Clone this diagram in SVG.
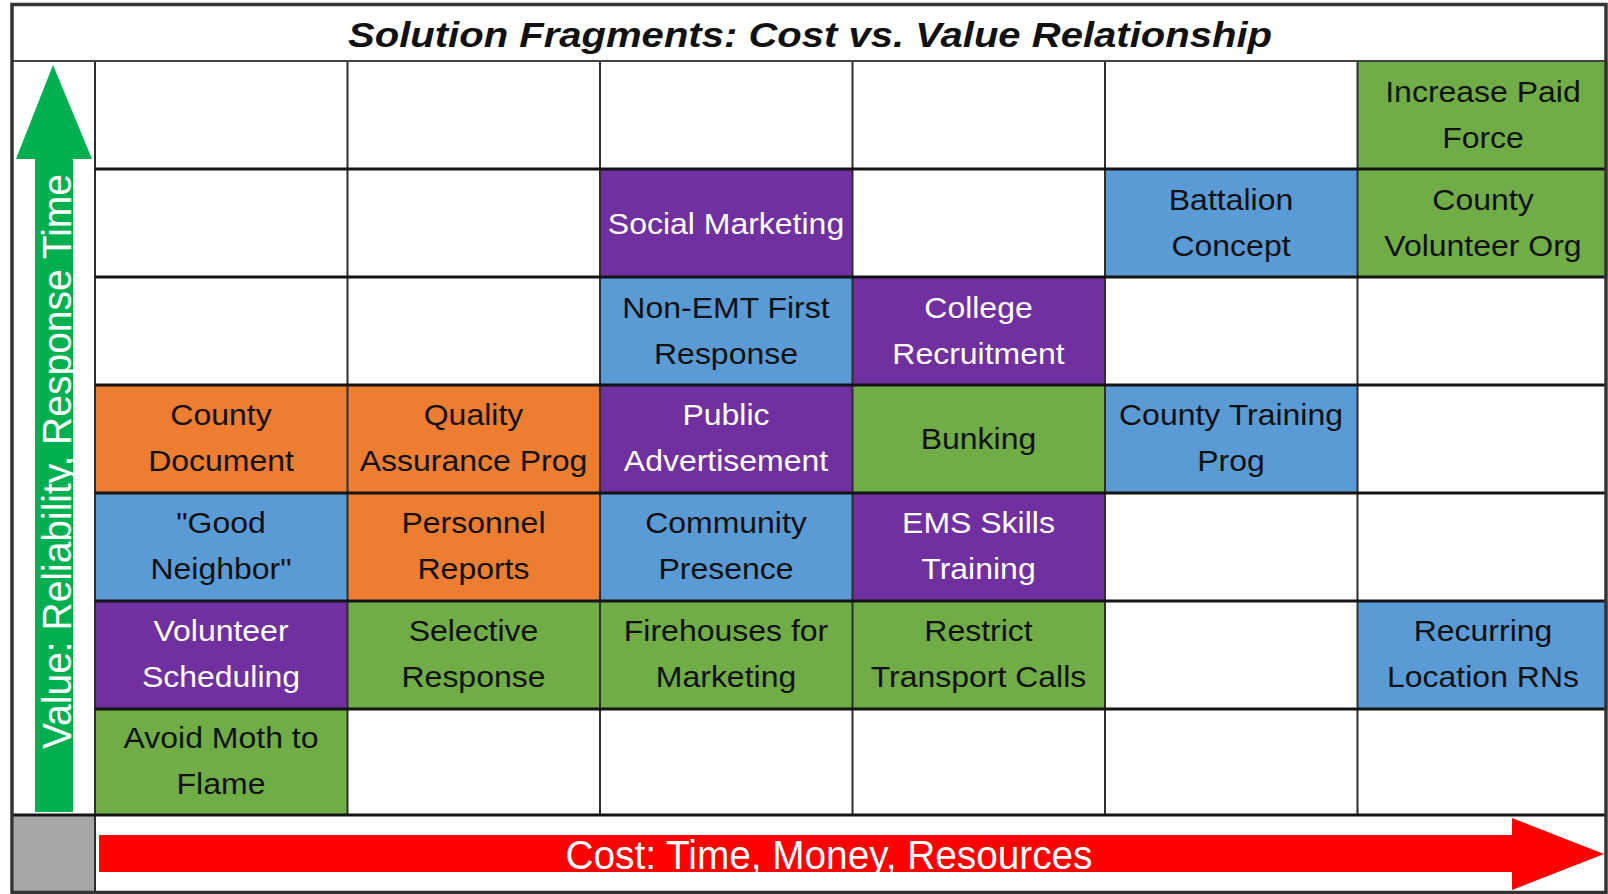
<svg xmlns="http://www.w3.org/2000/svg" width="1608" height="894" viewBox="0 0 1608 894">
  <style>
    .cell { stroke: none; }
    .orange { fill: #ED7D31; }
    .blue { fill: #5B9BD5; }
    .green { fill: #70AD47; }
    .purple { fill: #7030A0; }
    .lbl { font-family: "Liberation Sans", Arial, sans-serif; font-size: 30px; text-anchor: middle; fill: #111; }
    .lbl.light { fill: #ffffff; }
    .hline { stroke: #141414; stroke-width: 3; }
    .vline { stroke: #2e2e2e; stroke-width: 2; }
  </style>
  <defs>
    <clipPath id="barClip">
      <rect x="99" y="835" width="1413" height="37"/>
    </clipPath>
  </defs>

  <!-- background -->
  <rect x="0" y="0" width="1608" height="894" fill="#ffffff"/>

  <!-- title -->
  <g id="title">
    <text x="810" y="47" font-family="'Liberation Sans', Arial, sans-serif" font-size="35" font-weight="bold" font-style="italic" text-anchor="middle" fill="#111" textLength="924" lengthAdjust="spacingAndGlyphs">Solution Fragments: Cost vs. Value Relationship</text>
  </g>

  <!-- value axis: green arrow -->
  <g id="value-axis">
    <polygon points="53,65 92,159 73,159 73,812 35,812 35,159 16,159" fill="#00B050"/>
    <text transform="translate(71 461.5) rotate(-90)" font-family="'Liberation Sans', Arial, sans-serif" font-size="40" text-anchor="middle" fill="#ffffff" textLength="575" lengthAdjust="spacingAndGlyphs">Value: Reliability, Response Time</text>
  </g>

  <!-- corner block -->
  <g id="corner">
    <rect x="14" y="815" width="81" height="78" fill="#A6A6A6"/>
  </g>

  <!-- cost axis: red arrow -->
  <g id="cost-axis">
    <polygon points="99,835 1512,835 1512,818 1604,854 1512,890 1512,872 99,872" fill="#FF0000"/>
    <text x="829" y="869" clip-path="url(#barClip)" font-family="'Liberation Sans', Arial, sans-serif" font-size="40" text-anchor="middle" fill="#ffffff" textLength="527" lengthAdjust="spacingAndGlyphs">Cost: Time, Money, Resources</text>
  </g>

  <!-- fragment cells: columns start at 95 + 252.5*i, rows at 61 + 108*j -->
  <g id="increase-paid-force">
    <rect class="cell green" x="1357.5" y="61" width="250" height="108"/>
    <text class="lbl" transform="translate(1483 0) scale(1.066 1)"><tspan x="0" y="102.5">Increase Paid</tspan><tspan x="0" y="148.5">Force</tspan></text>
  </g>

  <g id="social-marketing">
    <rect class="cell purple" x="600" y="169" width="252.5" height="108"/>
    <text class="lbl light" transform="translate(726 0) scale(1.066 1)" x="0" y="234">Social Marketing</text>
  </g>
  <g id="battalion-concept">
    <rect class="cell blue" x="1105" y="169" width="252.5" height="108"/>
    <text class="lbl" transform="translate(1231 0) scale(1.066 1)"><tspan x="0" y="210.5">Battalion</tspan><tspan x="0" y="256.5">Concept</tspan></text>
  </g>
  <g id="county-volunteer-org">
    <rect class="cell green" x="1357.5" y="169" width="250" height="108"/>
    <text class="lbl" transform="translate(1483 0) scale(1.066 1)"><tspan x="0" y="210.5">County</tspan><tspan x="0" y="256.5">Volunteer Org</tspan></text>
  </g>

  <g id="non-emt-first-response">
    <rect class="cell blue" x="600" y="277" width="252.5" height="108"/>
    <text class="lbl" transform="translate(726 0) scale(1.066 1)"><tspan x="0" y="318">Non-EMT First</tspan><tspan x="0" y="364">Response</tspan></text>
  </g>
  <g id="college-recruitment">
    <rect class="cell purple" x="852.5" y="277" width="252.5" height="108"/>
    <text class="lbl light" transform="translate(978.5 0) scale(1.066 1)"><tspan x="0" y="318">College</tspan><tspan x="0" y="364">Recruitment</tspan></text>
  </g>

  <g id="county-document">
    <rect class="cell orange" x="95" y="385" width="252.5" height="108"/>
    <text class="lbl" transform="translate(221 0) scale(1.066 1)"><tspan x="0" y="425.5">County</tspan><tspan x="0" y="471.5">Document</tspan></text>
  </g>
  <g id="quality-assurance-prog">
    <rect class="cell orange" x="347.5" y="385" width="252.5" height="108"/>
    <text class="lbl" transform="translate(473.5 0) scale(1.066 1)"><tspan x="0" y="425.5">Quality</tspan><tspan x="0" y="471.5">Assurance Prog</tspan></text>
  </g>
  <g id="public-advertisement">
    <rect class="cell purple" x="600" y="385" width="252.5" height="108"/>
    <text class="lbl light" transform="translate(726 0) scale(1.066 1)"><tspan x="0" y="425.5">Public</tspan><tspan x="0" y="471.5">Advertisement</tspan></text>
  </g>
  <g id="bunking">
    <rect class="cell green" x="852.5" y="385" width="252.5" height="108"/>
    <text class="lbl" transform="translate(978.5 0) scale(1.066 1)" x="0" y="449">Bunking</text>
  </g>
  <g id="county-training-prog">
    <rect class="cell blue" x="1105" y="385" width="252.5" height="108"/>
    <text class="lbl" transform="translate(1231 0) scale(1.066 1)"><tspan x="0" y="425.5">County Training</tspan><tspan x="0" y="471.5">Prog</tspan></text>
  </g>

  <g id="good-neighbor">
    <rect class="cell blue" x="95" y="493" width="252.5" height="108"/>
    <text class="lbl" transform="translate(221 0) scale(1.066 1)"><tspan x="0" y="533.5">"Good</tspan><tspan x="0" y="579.5">Neighbor"</tspan></text>
  </g>
  <g id="personnel-reports">
    <rect class="cell orange" x="347.5" y="493" width="252.5" height="108"/>
    <text class="lbl" transform="translate(473.5 0) scale(1.066 1)"><tspan x="0" y="533.5">Personnel</tspan><tspan x="0" y="579.5">Reports</tspan></text>
  </g>
  <g id="community-presence">
    <rect class="cell blue" x="600" y="493" width="252.5" height="108"/>
    <text class="lbl" transform="translate(726 0) scale(1.066 1)"><tspan x="0" y="533.5">Community</tspan><tspan x="0" y="579.5">Presence</tspan></text>
  </g>
  <g id="ems-skills-training">
    <rect class="cell purple" x="852.5" y="493" width="252.5" height="108"/>
    <text class="lbl light" transform="translate(978.5 0) scale(1.066 1)"><tspan x="0" y="533.5">EMS Skills</tspan><tspan x="0" y="579.5">Training</tspan></text>
  </g>

  <g id="volunteer-scheduling">
    <rect class="cell purple" x="95" y="601" width="252.5" height="108"/>
    <text class="lbl light" transform="translate(221 0) scale(1.066 1)"><tspan x="0" y="641.5">Volunteer</tspan><tspan x="0" y="687.5">Scheduling</tspan></text>
  </g>
  <g id="selective-response">
    <rect class="cell green" x="347.5" y="601" width="252.5" height="108"/>
    <text class="lbl" transform="translate(473.5 0) scale(1.066 1)"><tspan x="0" y="641.5">Selective</tspan><tspan x="0" y="687.5">Response</tspan></text>
  </g>
  <g id="firehouses-for-marketing">
    <rect class="cell green" x="600" y="601" width="252.5" height="108"/>
    <text class="lbl" transform="translate(726 0) scale(1.066 1)"><tspan x="0" y="641.5">Firehouses for</tspan><tspan x="0" y="687.5">Marketing</tspan></text>
  </g>
  <g id="restrict-transport-calls">
    <rect class="cell green" x="852.5" y="601" width="252.5" height="108"/>
    <text class="lbl" transform="translate(978.5 0) scale(1.066 1)"><tspan x="0" y="641.5">Restrict</tspan><tspan x="0" y="687.5">Transport Calls</tspan></text>
  </g>
  <g id="recurring-location-rns">
    <rect class="cell blue" x="1357.5" y="601" width="250" height="108"/>
    <text class="lbl" transform="translate(1483 0) scale(1.066 1)"><tspan x="0" y="641.5">Recurring</tspan><tspan x="0" y="687.5">Location RNs</tspan></text>
  </g>

  <g id="avoid-moth-to-flame">
    <rect class="cell green" x="95" y="709" width="252.5" height="106"/>
    <text class="lbl" transform="translate(221 0) scale(1.066 1)"><tspan x="0" y="748.5">Avoid Moth to</tspan><tspan x="0" y="794.5">Flame</tspan></text>
  </g>

  <!-- grid rules -->
  <g id="grid">
    <line class="vline" x1="347.5" y1="61" x2="347.5" y2="815"/>
    <line class="vline" x1="600" y1="61" x2="600" y2="815"/>
    <line class="vline" x1="852.5" y1="61" x2="852.5" y2="815"/>
    <line class="vline" x1="1105" y1="61" x2="1105" y2="815"/>
    <line class="vline" x1="1357.5" y1="61" x2="1357.5" y2="815"/>
    <line class="vline" x1="95" y1="61" x2="95" y2="893"/>
    <line class="hline" x1="95" y1="169" x2="1607" y2="169"/>
    <line class="hline" x1="95" y1="277" x2="1607" y2="277"/>
    <line class="hline" x1="95" y1="385" x2="1607" y2="385"/>
    <line class="hline" x1="95" y1="493" x2="1607" y2="493"/>
    <line class="hline" x1="95" y1="601" x2="1607" y2="601"/>
    <line class="hline" x1="95" y1="709" x2="1607" y2="709"/>
    <line class="hline" x1="12" y1="815" x2="1607" y2="815"/>
    <line x1="12" y1="61" x2="1607" y2="61" stroke="#444" stroke-width="2"/>
  </g>

  <!-- outer frame -->
  <rect x="12" y="4.5" width="1594" height="888" fill="none" stroke="#333" stroke-width="3.5"/>
</svg>
